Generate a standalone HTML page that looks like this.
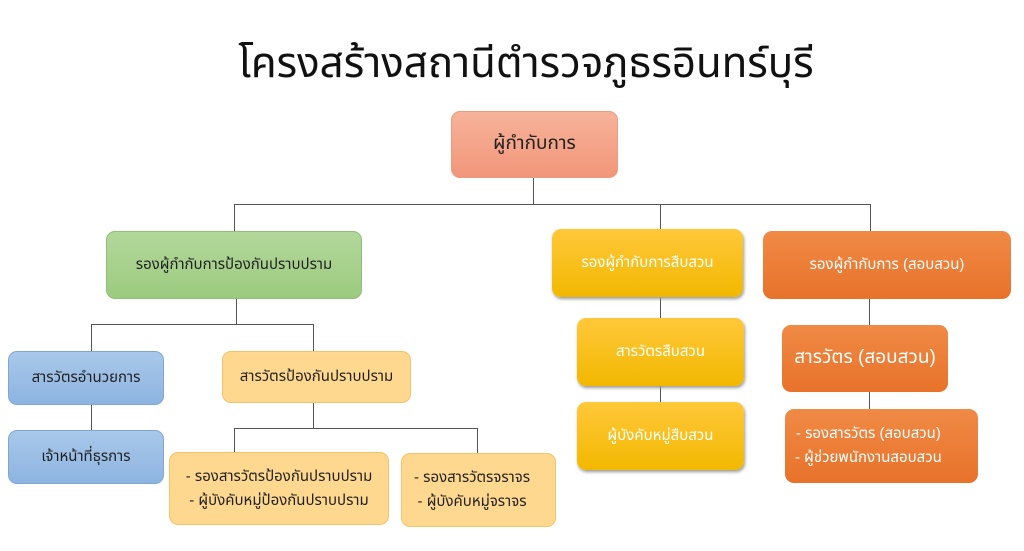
<!DOCTYPE html>
<html><head><meta charset="utf-8"><style>
body{margin:0;width:1024px;height:551px;background:#fff;position:relative;overflow:hidden;font-family:"Liberation Sans","Noto Sans Thai","DejaVu Sans",sans-serif}
.b{position:absolute;box-sizing:border-box;border-radius:9px;display:flex;align-items:center;justify-content:center;flex-direction:column;text-align:center;font-size:15px;color:#222;line-height:1.6}
.l{position:absolute;background:#555}
.sal{background:linear-gradient(#f6b39a,#f2967a);border:1px solid #e99b7c}
.gr{background:linear-gradient(#b2d79a,#9ccb80);border:1px solid #8fbf73}
.bl{background:linear-gradient(#a9c8ea,#8db4e1);border:1px solid #7ea7d6}
.lo{background:#ffd88f;border:1px solid #f5c26a}
.ye{background:linear-gradient(#ffc83a,#f2b800);color:#fff;box-shadow:1px 2px 3px #999}
.or{background:linear-gradient(#f08a45,#e8722a);color:#fff}
</style></head><body>
<div style="position:absolute;left:0;width:1052px;top:32px;text-align:center;font-size:42px;color:#111">โครงสร้างสถานีตำรวจภูธรอินทร์บุรี</div>

<div class="l" style="left:533px;top:178px;width:1px;height:26px"></div>
<div class="l" style="left:234px;top:204px;width:637px;height:1px"></div>
<div class="l" style="left:234px;top:204px;width:1px;height:28px"></div>
<div class="l" style="left:660px;top:204px;width:1px;height:26px"></div>
<div class="l" style="left:870px;top:204px;width:1px;height:28px"></div>
<div class="l" style="left:236px;top:299px;width:1px;height:25px"></div>
<div class="l" style="left:91px;top:324px;width:222px;height:1px"></div>
<div class="l" style="left:91px;top:324px;width:1px;height:106px"></div>
<div class="l" style="left:313px;top:324px;width:1px;height:104px"></div>
<div class="l" style="left:234px;top:428px;width:243px;height:1px"></div>
<div class="l" style="left:234px;top:428px;width:1px;height:24px"></div>
<div class="l" style="left:477px;top:428px;width:1px;height:25px"></div>
<div class="l" style="left:660px;top:297px;width:1px;height:105px"></div>
<div class="l" style="left:869px;top:299px;width:1px;height:110px"></div>

<div class="b sal" style="left:451px;top:111px;width:167px;height:67px;font-size:19px">ผู้กำกับการ</div>
<div class="b gr" style="left:106px;top:231px;width:256px;height:68px">รองผู้กำกับการป้องกันปราบปราม</div>
<div class="b ye" style="left:552px;top:229px;width:191px;height:68px">รองผู้กำกับการสืบสวน</div>
<div class="b or" style="left:763px;top:231px;width:248px;height:68px">รองผู้กำกับการ (สอบสวน)</div>
<div class="b ye" style="left:577px;top:318px;width:167px;height:68px">สารวัตรสืบสวน</div>
<div class="b ye" style="left:577px;top:402px;width:167px;height:68px">ผู้บังคับหมู่สืบสวน</div>
<div class="b or" style="left:782px;top:325px;width:166px;height:67px;font-size:19px">สารวัตร (สอบสวน)</div>
<div class="b or" style="left:785px;top:409px;width:193px;height:74px;align-items:flex-start;padding-left:10px">- รองสารวัตร (สอบสวน)<br>- ผู้ช่วยพนักงานสอบสวน</div>
<div class="b bl" style="left:8px;top:351px;width:156px;height:54px">สารวัตรอำนวยการ</div>
<div class="b bl" style="left:8px;top:430px;width:156px;height:54px">เจ้าหน้าที่ธุรการ</div>
<div class="b lo" style="left:222px;top:351px;width:189px;height:52px">สารวัตรป้องกันปราบปราม</div>
<div class="b lo" style="left:169px;top:452px;width:220px;height:73px">- รองสารวัตรป้องกันปราบปราม<br>- ผู้บังคับหมู่ป้องกันปราบปราม</div>
<div class="b lo" style="left:401px;top:453px;width:155px;height:74px;align-items:flex-start;padding-left:12px">- รองสารวัตรจราจร<br>- ผู้บังคับหมู่จราจร</div>
</body></html>
